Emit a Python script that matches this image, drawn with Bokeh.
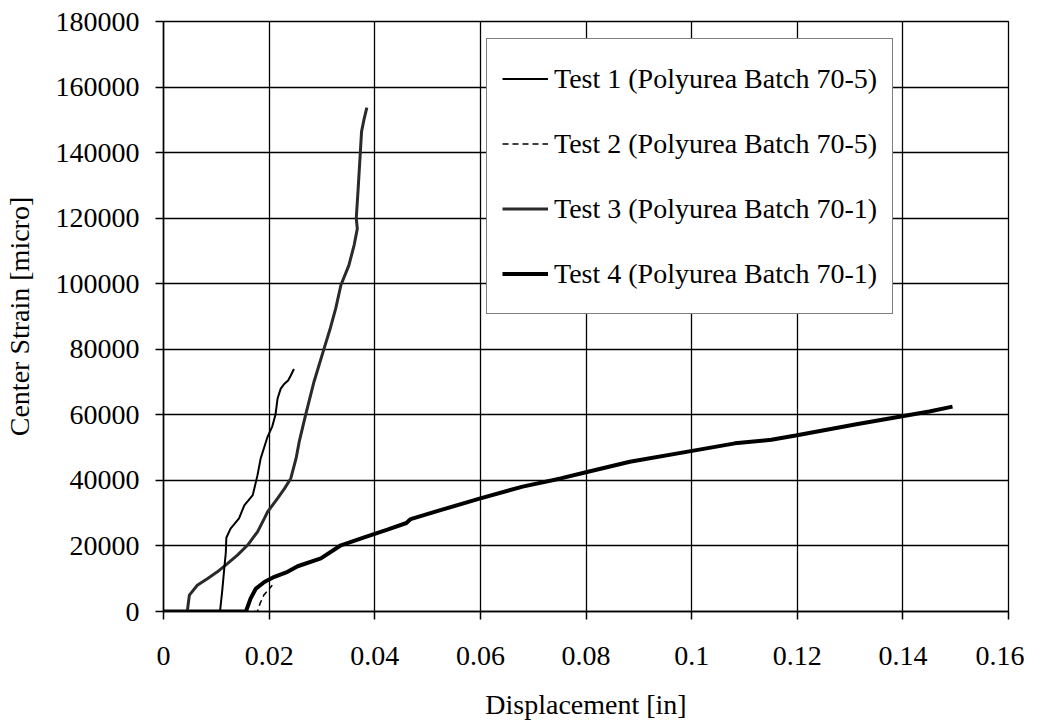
from bokeh.plotting import figure
from bokeh.models import Legend, LegendItem, FixedTicker
from bokeh.embed import file_html
from bokeh.resources import INLINE

# ---- data ----
x_ticks = [0, 0.02, 0.04, 0.06, 0.08, 0.1, 0.12, 0.14, 0.16]
x_tick_labels = ["0", "0.02", "0.04", "0.06", "0.08", "0.1", "0.12", "0.14", "0.16"]
y_ticks = [0, 20000, 40000, 60000, 80000, 100000, 120000, 140000, 160000, 180000]
y_tick_labels = ["0", "20000", "40000", "60000", "80000", "100000", "120000", "140000", "160000", "180000"]

series_names = ["Test 1 (Polyurea Batch 70-5)", "Test 2 (Polyurea Batch 70-5)",
                "Test 3 (Polyurea Batch 70-1)", "Test 4 (Polyurea Batch 70-1)"]

x1 = [0, 0.0107, 0.0111, 0.0115, 0.0118, 0.0119, 0.0127, 0.0143, 0.0153, 0.0169, 0.0172,
      0.0178, 0.0184, 0.0197, 0.0206, 0.0212, 0.0216, 0.0222, 0.0228, 0.0236, 0.0241, 0.0247]
y1 = [0, 0, 6000, 13000, 18000, 22500, 25300, 28400, 32400, 35500, 37500,
      41600, 46700, 53300, 56500, 60000, 65000, 68000, 69300, 70500, 72000, 74000]

x2 = [0, 0.0178, 0.0183, 0.0190, 0.0198, 0.0206]
y2 = [0, 0, 2500, 5000, 6500, 8000]

x3 = [0, 0.0045, 0.0049, 0.0064, 0.0083, 0.0102, 0.0121, 0.0140, 0.0159, 0.0178, 0.0191,
      0.0197, 0.0216, 0.0229, 0.0241, 0.0251, 0.0257, 0.0269, 0.0285, 0.0304, 0.0316,
      0.0326, 0.0336, 0.0351, 0.0361, 0.0367, 0.0365, 0.0369, 0.0372, 0.0375, 0.0380, 0.0385]
y3 = [0, 0, 5000, 8000, 10000, 12100, 14600, 17200, 20200, 24300, 28400,
      30400, 34500, 37500, 40600, 46700, 51800, 59900, 70100, 80200, 86500,
      92400, 99600, 105600, 111800, 116800, 119900, 130100, 138200, 146400, 150400, 153700]

x4 = [0, 0.0156, 0.0165, 0.0175, 0.0191, 0.0210, 0.0235, 0.0254, 0.0298, 0.0336, 0.0380,
      0.0424, 0.0460, 0.0468, 0.0526, 0.0600, 0.0680, 0.0752, 0.0800, 0.0883, 0.1001,
      0.1082, 0.1151, 0.1197, 0.1312, 0.1396, 0.1450, 0.1494]
y4 = [0, 0, 4000, 7000, 9000, 10600, 12100, 13800, 16200, 20200, 22600,
      25000, 27000, 28200, 31000, 34500, 38100, 40600, 42500, 45700, 49000,
      51300, 52400, 53700, 57100, 59500, 61000, 62500]

FONT = "Liberation Serif"

p = figure(frame_width=845, frame_height=590, x_range=(0, 0.16), y_range=(0, 180000),
           output_backend="svg", toolbar_location=None,
           min_border_left=161, min_border_right=16, min_border_top=21, min_border_bottom=98,
           background_fill_color="white", border_fill_color="white")
p.outline_line_color = "black"
p.outline_line_width = 1.3

p.xaxis.ticker = FixedTicker(ticks=x_ticks)
p.yaxis.ticker = FixedTicker(ticks=y_ticks)
p.xaxis.major_label_overrides = dict(zip(x_ticks, x_tick_labels))
p.yaxis.major_label_overrides = dict(zip(y_ticks, y_tick_labels))

for ax in (p.xaxis, p.yaxis):
    ax.axis_line_color = "black"
    ax.axis_line_width = 1.5
    ax.major_tick_line_color = "black"
    ax.major_tick_line_width = 1.5
    ax.major_tick_out = 8
    ax.major_tick_in = 0
    ax.minor_tick_line_color = None
    ax.major_label_text_font = FONT
    ax.major_label_text_font_size = "28px"
    ax.major_label_text_color = "black"
    ax.axis_label_text_font = FONT
    ax.axis_label_text_font_size = "28px"
    ax.axis_label_text_font_style = "normal"
    ax.axis_label_text_color = "black"

p.xaxis.axis_label = "Displacement [in]"
p.yaxis.axis_label = "Center Strain [micro]"
p.xaxis.major_label_standoff = 27
p.yaxis.major_label_standoff = 16
p.xaxis.axis_label_standoff = 21
p.yaxis.axis_label_standoff = 18

for g in (p.xgrid, p.ygrid):
    g.grid_line_color = "black"
    g.grid_line_width = 1.3

r4 = p.line(x4, y4, line_color="black", line_width=4)
r3 = p.line(x3, y3, line_color="#2a2a2a", line_width=3)
r1 = p.line(x1, y1, line_color="black", line_width=2)
r2 = p.line(x2, y2, line_color="black", line_width=1.5, line_dash="6 4")

legend = Legend(items=[LegendItem(label=series_names[0], renderers=[r1]),
                       LegendItem(label=series_names[1], renderers=[r2]),
                       LegendItem(label=series_names[2], renderers=[r3]),
                       LegendItem(label=series_names[3], renderers=[r4])],
                location=(323, 297))
legend.label_text_font = FONT
legend.label_text_font_size = "28px"
legend.label_text_color = "black"
legend.glyph_width = 46
legend.glyph_height = 49
legend.label_height = 49
legend.label_standoff = 6
legend.spacing = 16
legend.padding = 15
legend.margin = 0
legend.border_line_color = "black"
legend.border_line_width = 1.3
legend.background_fill_color = "white"
legend.background_fill_alpha = 1
p.add_layout(legend)

open("out.html", "w").write(file_html(p, INLINE))
